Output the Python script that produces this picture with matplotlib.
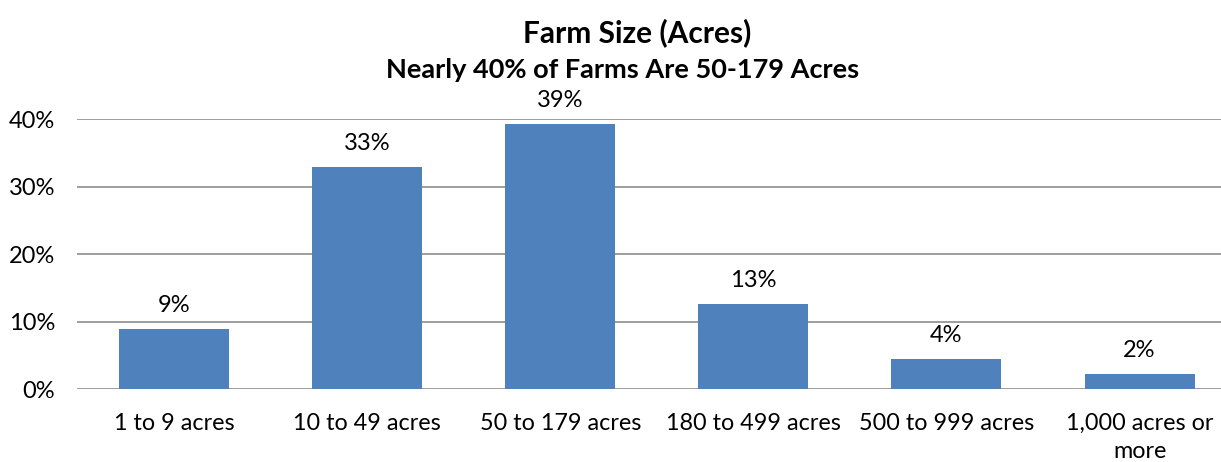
import matplotlib.pyplot as plt
from matplotlib.ticker import PercentFormatter

categories = ["1 to 9 acres", "10 to 49 acres", "50 to 179 acres",
              "180 to 499 acres", "500 to 999 acres", "1,000 acres or\nmore"]
shares = [0.089, 0.329, 0.393, 0.126, 0.045, 0.022]
labels = ["9%", "33%", "39%", "13%", "4%", "2%"]
yticks = [0, 0.1, 0.2, 0.3, 0.4]

plt.rcParams['font.family'] = ['Lato', 'DejaVu Sans']

fig = plt.figure(figsize=(12.21, 4.62), dpi=100)
ax = fig.add_axes([0.0634, 0.158, 0.949, 0.584])

x = range(len(categories))
ax.bar(x, shares, width=0.57, color="#4F81BD", zorder=3)
for xi, v, lab in zip(x, shares, labels):
    ax.annotate(lab, (xi, v), xytext=(0, 17), textcoords="offset points",
                ha="center", va="center", fontsize=17)

ax.set_xlim(-0.5, len(categories) - 0.5)
ax.set_ylim(0, 0.4)
ax.set_yticks(yticks)
ax.yaxis.set_major_formatter(PercentFormatter(1.0, decimals=0))
ax.set_xticks(list(x))
ax.set_xticklabels(categories, fontsize=16.8, linespacing=1.45)
ax.tick_params(axis="y", labelsize=17, length=0, pad=16)
ax.tick_params(axis="x", length=0, pad=17)
ax.grid(axis="y", color="#8c8c8c", linewidth=1.2, zorder=0)
for s in ["top", "right", "left", "bottom"]:
    ax.spines[s].set_visible(False)

fig.text(0.522, 0.93, "Farm Size (Acres)", ha="center", va="center",
         fontsize=21.5, fontweight="bold")
fig.text(0.51, 0.848, "Nearly 40% of Farms Are 50-179 Acres", ha="center",
         va="center", fontsize=19.5, fontweight="bold")

fig.savefig("out.png", dpi=100)
